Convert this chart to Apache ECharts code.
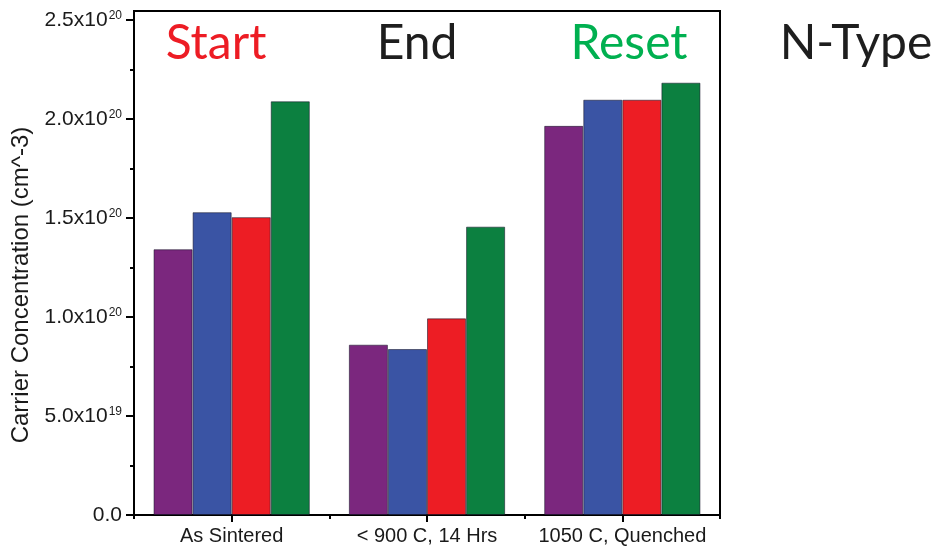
<!DOCTYPE html>
<html>
<head>
<meta charset="utf-8">
<script src="https://cdn.jsdelivr.net/npm/echarts@6/dist/echarts.min.js"></script>
<style>
html,body{margin:0;padding:0;background:#fff;}
#chart{width:936px;height:548px;}
</style>
</head>
<body>
<div id="chart"></div>
<script>
const categories = ['As Sintered', '< 900 C, 14 Hrs', '1050 C, Quenched'];
const purpleValues = [1.342e20, 0.860e20, 1.965e20];
const blueValues   = [1.529e20, 0.838e20, 2.097e20];
const redValues    = [1.504e20, 0.993e20, 2.097e20];
const greenValues  = [2.089e20, 1.456e20, 2.183e20];
const yLabelValues = [0, 0.5e20, 1.0e20, 1.5e20, 2.0e20, 2.5e20];
const yMinorTickValues = [0.25e20, 0.75e20, 1.25e20, 1.75e20, 2.25e20];
const yAxisTitle = 'Carrier Concentration (cm^-3)';
const headers = ['Start', 'End', 'Reset', 'N-Type'];

const seriesColors = ['#7b277e', '#3a54a4', '#ed1d24', '#0c8040'];
const seriesData = [purpleValues, blueValues, redValues, greenValues];

const chart = echarts.init(document.getElementById('chart'), null, {renderer: 'canvas'});

function fmt(v) {
  if (v === 0) return '0.0';
  const e = Math.floor(Math.log10(v) + 1e-9);
  const m = (v / Math.pow(10, e)).toFixed(1);
  return m + 'x10{sup|' + e + '}';
}

const labelFont = '"Liberation Sans", Arial, sans-serif';
const titleFont = 'Lato, "Open Sans", sans-serif';
const headerColors = ['#ed1c24', '#1e1e1e', '#00b050', '#1e1e1e'];
const headerX = [216, 417, 629, 856];

const option = {
  animation: false,
  backgroundColor: '#fff',
  grid: {
    left: 134, right: 216, top: 11, bottom: 33,
    show: true, borderColor: '#000', borderWidth: 2, backgroundColor: 'transparent'
  },
  xAxis: [
    {
      type: 'category', data: categories, position: 'bottom',
      axisLine: {show: true, lineStyle: {color: '#000', width: 2}},
      axisTick: {show: true, interval: 0, alignWithLabel: true, length: 7, lineStyle: {color: '#000', width: 2}},
      axisLabel: {interval: 0, fontFamily: labelFont, fontSize: 20, color: '#1a1a1a', margin: 11}
    },
    {
      type: 'category', data: categories, position: 'bottom',
      axisLine: {show: false},
      axisTick: {show: true, interval: 0, alignWithLabel: false, length: 4, lineStyle: {color: '#000', width: 2}},
      axisLabel: {show: false}
    }
  ],
  yAxis: [
    {
      type: 'value', min: 0, max: 2.545e20,
      axisLine: {show: true, lineStyle: {color: '#000', width: 2}},
      axisTick: {show: true, length: 8, customValues: yLabelValues, lineStyle: {color: '#000', width: 2}},
      splitLine: {show: false},
      axisLabel: {
        customValues: yLabelValues,
        margin: 12,
        formatter: fmt,
        fontFamily: labelFont, fontSize: 21, color: '#1a1a1a',
        rich: {
          sup: {fontFamily: labelFont, fontSize: 12, color: '#1a1a1a', verticalAlign: 'top', lineHeight: 12, padding: [0, 0, 0, 1]}
        }
      }
    },
    {
      type: 'value', min: 0, max: 2.545e20, position: 'left',
      axisLine: {show: false},
      axisTick: {show: true, length: 4, customValues: yMinorTickValues, lineStyle: {color: '#000', width: 2}},
      axisLabel: {show: false},
      splitLine: {show: false}
    }
  ],
  series: seriesData.map((d, i) => ({
    type: 'bar', data: d, xAxisIndex: 0, yAxisIndex: 0,
    barGap: '0%', barCategoryGap: '20%',
    itemStyle: {color: seriesColors[i], borderColor: 'rgba(20,20,40,0.55)', borderWidth: 1}
  })),
  graphic: [
    {
      type: 'text', x: 21, y: 285, rotation: Math.PI / 2,
      style: {text: yAxisTitle, fontFamily: labelFont, fontSize: 24, fill: '#1a1a1a', textAlign: 'center', textVerticalAlign: 'middle'}
    }
  ].concat(headers.map((h, i) => ({
    type: 'text', x: headerX[i], y: 44,
    style: {text: h, fontFamily: titleFont, fontSize: 48, fill: headerColors[i], textAlign: 'center', textVerticalAlign: 'middle'}
  })))
};

chart.setOption(option);
</script>
</body>
</html>
